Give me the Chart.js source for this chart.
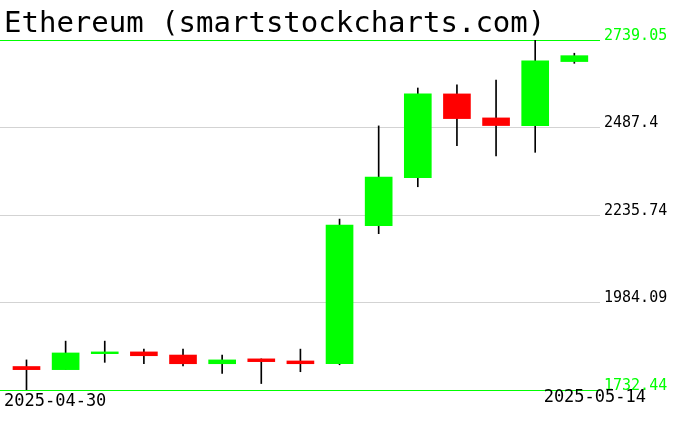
<!DOCTYPE html>
<html>
<head>
<meta charset="utf-8">
<script src="https://cdn.jsdelivr.net/npm/chart.js@4"></script>
<style>
  html, body { margin: 0; padding: 0; background: #ffffff; }
  #c { display: block; }
</style>
</head>
<body>
<canvas id="c" width="676" height="431"></canvas>
<script>
const chartTitle = "Ethereum (smartstockcharts.com)";
const dates = ["2025-04-30","2025-05-01","2025-05-02","2025-05-03","2025-05-04","2025-05-05","2025-05-06","2025-05-07","2025-05-08","2025-05-09","2025-05-10","2025-05-11","2025-05-12","2025-05-13","2025-05-14"];
const opens  = [1800, 1791, 1837, 1842, 1833, 1808, 1822, 1816, 1808, 2205, 2343, 2584, 2515, 2493, 2677];
const highs  = [1819, 1873, 1873, 1850, 1850, 1833, 1822, 1850, 2224, 2492, 2601, 2610, 2624, 2739, 2701];
const lows   = [1733, 1791, 1812, 1808, 1802, 1780, 1751, 1785, 1805, 2182, 2317, 2435, 2406, 2416, 2672];
const closes = [1791, 1839, 1842, 1831, 1808, 1819, 1814, 1808, 2207, 2345, 2584, 2513, 2493, 2679, 2694];
const yTicks = [1732.44, 1984.09, 2235.74, 2487.4, 2739.05];
const yTickLabels = ["1732.44", "1984.09", "2235.74", "2487.4", "2739.05"];

const UP = "#00ff00", DOWN = "#ff0000";
const wickData = dates.map((d, i) => ({ x: i, y: [lows[i], highs[i]] }));
const bodyData = dates.map((d, i) => ({ x: i, y: [opens[i], closes[i]] }));
const bodyColors = dates.map((d, i) => closes[i] >= opens[i] ? UP : DOWN);

const textPlugin = {
  id: "texts",
  afterDraw(chart) {
    const ctx = chart.ctx, a = chart.chartArea;
    ctx.save();
    ctx.fillStyle = "#000000";
    ctx.font = "29px 'DejaVu Sans Mono'";
    ctx.textBaseline = "alphabetic";
    ctx.textAlign = "left";
    ctx.fillText(chartTitle, 4, 32);
    ctx.font = "17px 'DejaVu Sans Mono'";
    ctx.textBaseline = "top";
    ctx.textAlign = "left";
    ctx.fillText(dates[0], a.left + 4, a.bottom + 3);
    ctx.textAlign = "right";
    ctx.fillText(dates[dates.length - 1], a.right + 46, a.bottom - 1);
    ctx.restore();
  }
};

new Chart(document.getElementById("c"), {
  type: "bar",
  data: {
    datasets: [
      {
        label: "body",
        data: bodyData,
        backgroundColor: bodyColors,
        borderWidth: 0,
        barThickness: 27,
        grouped: false,
        order: 1
      },
      {
        label: "wick",
        data: wickData,
        backgroundColor: "#000000",
        borderWidth: 0,
        barThickness: 1,
        grouped: false,
        order: 2
      }
    ]
  },
  options: {
    responsive: false,
    animation: false,
    events: [],
    layout: { padding: { left: 0, right: 0, top: 40, bottom: 41 } },
    plugins: {
      legend: { display: false },
      tooltip: { enabled: false },
      title: { display: false }
    },
    scales: {
      x: {
        type: "linear",
        display: false,
        min: -0.677,
        max: 14.656,
        offset: false
      },
      y: {
        type: "linear",
        position: "right",
        min: yTicks[0],
        max: yTicks[yTicks.length - 1],
        afterBuildTicks: (scale) => { scale.ticks = yTicks.map(v => ({ value: v })); },
        afterFit: (scale) => { scale.width = 76; },
        border: { display: false },
        grid: {
          drawTicks: false,
          lineWidth: 1,
          color: (ctx) => (ctx.index === 0 || ctx.index === yTicks.length - 1) ? UP : "#d3d3d3"
        },
        ticks: {
          padding: 4,
          labelOffset: -4,
          font: { family: "'DejaVu Sans Mono'", size: 15 },
          color: (ctx) => (ctx.index === 0 || ctx.index === yTicks.length - 1) ? UP : "#000000",
          callback: (value, index) => yTickLabels[index]
        }
      }
    }
  },
  plugins: [textPlugin]
});
</script>
</body>
</html>
